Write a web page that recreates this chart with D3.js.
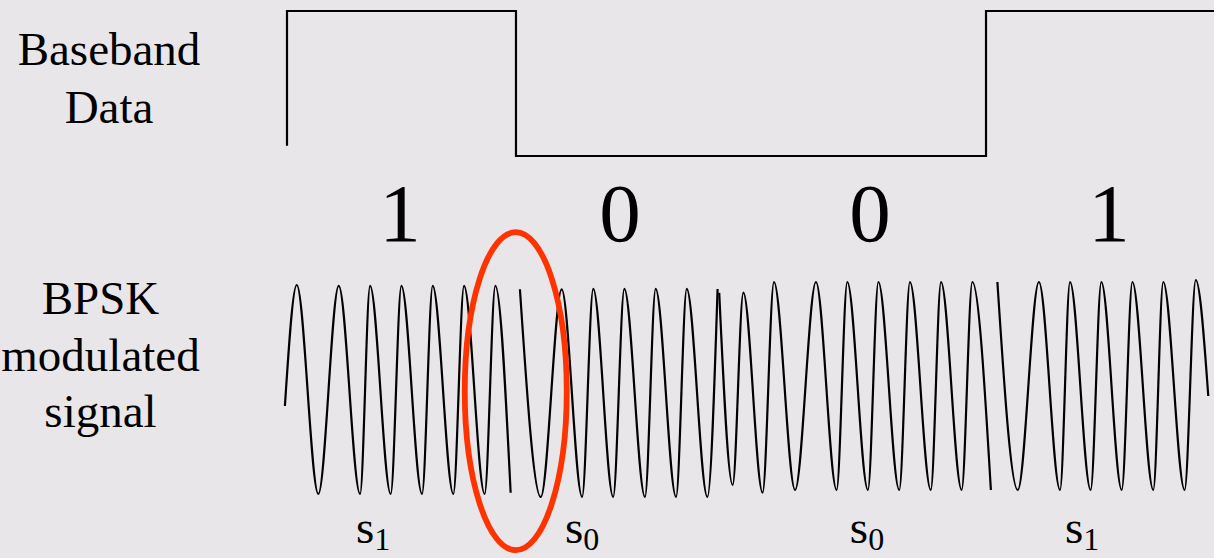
<!DOCTYPE html>
<html><head><meta charset="utf-8">
<script src="https://cdn.jsdelivr.net/npm/d3@7"></script>
<style>html,body{margin:0;padding:0;background:#e8e6e9;overflow:hidden}</style>
</head><body><svg id="c" width="1214" height="558"></svg>
<script>
// ---- data (time in bit periods, amplitude normalised) ----
const bits = ["1", "0", "0", "1"];
const bitLabelT = [0.487, 1.435, 2.513, 3.543];
const symbolBase = ["s", "s", "s", "s"];
const symbolSub = ["1", "0", "0", "1"];
const symbolT = [0.371, 1.272, 2.5, 3.427];
const basebandT = [0, 0, 0.987, 0.987, 3.013, 3.013, 4.02];
const basebandLevel = [0.07, 1, 1, 0, 0, 1, 1];

const waveT1 = [-0.009, 0.042, 0.135, 0.223, 0.315, 0.358, 0.447, 0.493, 0.582, 0.628, 0.717, 0.763, 0.852, 0.898, 0.964];
const waveA1 = [-0.192, 0.971, -1.038, 0.962, -1.038, 0.962, -1.038, 0.962, -1.038, 0.962, -1.038, 0.962, -1.038, 0.962, -1.026];
const waveT2 = [1.004, 1.094, 1.184, 1.272, 1.320, 1.406, 1.454, 1.543, 1.589, 1.677, 1.723, 1.812, 1.856];
const waveA2 = [0.930, -1.067, 0.930, -1.067, 0.933, -1.067, 0.933, -1.067, 0.933, -1.067, 0.933, -1.067, 0.933];
const waveT3 = [1.863, 1.921, 1.967, 2.050, 2.099, 2.190, 2.280, 2.369, 2.415, 2.504, 2.549, 2.639, 2.685, 2.775, 2.819, 2.908, 2.954, 3.034];
const waveA3 = [0.897, -0.952, 0.897, -1.026, 1.0, -1.0, 1.0, -1.0, 1.0, -1.0, 1.0, -1.0, 1.0, -1.0, 1.0, -1.0, 1.0, -1.0];
const waveT4 = [3.062, 3.150, 3.241, 3.332, 3.375, 3.464, 3.510, 3.598, 3.644, 3.734, 3.777, 3.869, 3.917, 3.971];
const waveA4 = [1.0, -1.0, 1.0, -1.0, 1.0, -1.0, 1.0, -1.0, 1.0, -1.0, 1.0, -1.0, 1.019, -0.096];
const highlightT = 0.986;
const highlightA = -0.05;

const leftLabelsTop = ["Baseband", "Data"];
const leftLabelsBottom = ["BPSK", "modulated", "signal"];

// ---- drawing ----
const svg = d3.select("#c");
const W = 1214, H = 558;
svg.append("rect").attr("width", W).attr("height", H).attr("fill", "#e8e6e9");

const x = d3.scaleLinear().domain([0, 4]).range([287, 1215]);
const yWave = d3.scaleLinear().domain([-1, 1]).range([490, 282]);
const yBase = d3.scaleLinear().domain([0, 1]).range([156, 11]);

const serif = "'Liberation Serif', 'Times New Roman', serif";

// baseband
const bb = basebandT.map((t, i) => [t, basebandLevel[i]]);
svg.append("path")
  .attr("d", d3.line().x(d => x(d[0])).y(d => yBase(d[1]))(bb))
  .attr("fill", "none").attr("stroke", "#000").attr("stroke-width", 2.2);

// waveform segments
const waveLine = d3.line().x(d => x(d[0])).y(d => yWave(d[1])).curve(d3.curveMonotoneX);
[[waveT1, waveA1], [waveT2, waveA2], [waveT3, waveA3], [waveT4, waveA4]].forEach(([ts, as]) => {
  svg.append("path")
    .attr("d", waveLine(ts.map((t, i) => [t, as[i]])))
    .attr("fill", "none").attr("stroke", "#000").attr("stroke-width", 2.2)
    .attr("stroke-linejoin", "round");
});

// highlight ellipse
svg.append("ellipse")
  .attr("cx", x(highlightT)).attr("cy", yWave(highlightA))
  .attr("rx", 51).attr("ry", 159)
  .attr("fill", "none").attr("stroke", "#ff3300").attr("stroke-width", 5.8);

// bit labels
svg.selectAll("text.bit").data(bits).enter().append("text")
  .attr("class", "bit")
  .attr("x", (d, i) => x(bitLabelT[i])).attr("y", 240.5)
  .attr("text-anchor", "middle")
  .attr("font-family", serif).attr("font-size", 83)
  .text(d => d);

// symbol labels
symbolBase.forEach((s, i) => {
  const t = svg.append("text")
    .attr("x", x(symbolT[i])).attr("y", 543)
    .attr("text-anchor", "middle")
    .attr("font-family", serif).attr("font-size", 47);
  t.append("tspan").text(s);
  t.append("tspan").attr("font-size", 32).attr("dy", 7).text(symbolSub[i]);
});

// left labels
leftLabelsTop.forEach((s, i) => {
  svg.append("text").attr("x", 109).attr("y", 65 + i * 57.7)
    .attr("text-anchor", "middle").attr("font-family", serif).attr("font-size", 47)
    .text(s);
});
leftLabelsBottom.forEach((s, i) => {
  svg.append("text").attr("x", 100.5).attr("y", 314.3 + i * 56.2)
    .attr("text-anchor", "middle").attr("font-family", serif).attr("font-size", 47)
    .text(s);
});
</script>
</body></html>
